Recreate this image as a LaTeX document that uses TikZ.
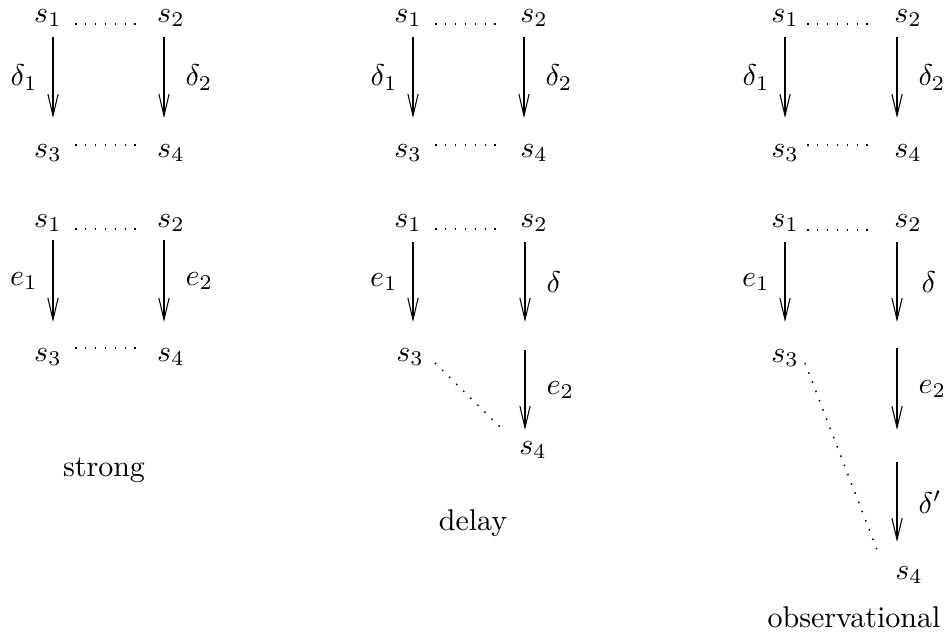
\documentclass[tikz,border=0pt]{standalone}
\usepackage{amsmath}
\usetikzlibrary{arrows.meta}
\usetikzlibrary{calc}

\tikzset{
    state/.style={inner sep=0pt, font=\normalsize},
    lbl/.style={inner sep=0pt},
    arr/.style={line width=0.35pt, -{Straight Barb[length=7.2pt,width=3.4pt,line width=0.35pt]}},
    dots/.style={line width=0.5pt, dash pattern=on 0.5pt off 2.8pt}
}

\begin{document}
\begin{tikzpicture}[x=0.33333pt, y=-0.33333pt]
    \useasboundingbox (0,0) rectangle (948,634);

    % Upper squares, one per notion
    \foreach \p/\xl/\xr/\al/\ar/\dl/\dr in {a/48/171/53/164/75/142, b/408/534/413/524/435/500, c/785/908/785/897/807/873} {
        \node[state] (\p1) at (\xl,18) {$s_1$};
        \node[state] (\p2) at (\xr,18) {$s_2$};
        \node[state] (\p3) at (\xl,153) {$s_3$};
        \node[state] (\p4) at (\xr,153) {$s_4$};

        % Transitions
        \draw[arr] ([shift={(\al-\xl,19)}]\p1.center) -- node[lbl, left=5pt] {$\delta_1$} ([shift={(\al-\xl,-35)}]\p3.center);
        \draw[arr] ([shift={(\ar-\xr,19)}]\p2.center) -- node[lbl, right=7pt] {$\delta_2$} ([shift={(\ar-\xr,-35)}]\p4.center);

        % Relations
        \draw[dots] ([shift={(\dl-\xl,6)}]\p1.center) -- ([shift={(\dr-\xr,6)}]\p2.center);
        \draw[dots] ([shift={(\dl-\xl,-8)}]\p3.center) -- ([shift={(\dr-\xr,-8)}]\p4.center);
    }

    % Strong
    \node[state] (sa1) at (48,223) {$s_1$};
    \node[state] (sa2) at (171,223) {$s_2$};
    \node[state] (sa3) at (48,357) {$s_3$};
    \node[state] (sa4) at (171,357) {$s_4$};
    \draw[arr] ([shift={(5,17)}]sa1.center) -- node[lbl, left=5pt] {$e_1$} ([shift={(5,-35)}]sa3.center);
    \draw[arr] ([shift={(-7,17)}]sa2.center) -- node[lbl, right=7pt] {$e_2$} ([shift={(-7,-35)}]sa4.center);
    \draw[dots] ([shift={(27,6)}]sa1.center) -- ([shift={(-29,6)}]sa2.center);
    \draw[dots] ([shift={(27,-9)}]sa3.center) -- ([shift={(-29,-9)}]sa4.center);
    \node (strong) at (104,470) {strong};

    % Delay
    \node[state] (sb1) at (408,223) {$s_1$};
    \node[state] (sb2) at (534,223) {$s_2$};
    \node[state] (sb3) at (410,357) {$s_3$};
    \node[state] (sb4) at (533,450) {$s_4$};
    \coordinate (bm) at (525,336);
    \draw[arr] ([shift={(5,19)}]sb1.center) -- node[lbl, left=5pt] {$e_1$} ([shift={(3,-35)}]sb3.center);
    \draw[arr] ([shift={(-9,19)}]sb2.center) -- node[lbl, right=7pt] {$\delta$} ([shift={(0,-14)}]bm);
    \draw[arr] ([shift={(0,14)}]bm) -- node[lbl, right=7pt] {$e_2$} ([shift={(-8,-20)}]sb4.center);
    \draw[dots] ([shift={(27,6)}]sb1.center) -- ([shift={(-34,6)}]sb2.center);
    \draw[dots] ([shift={(25,6)}]sb3.center) -- ([shift={(-30,-20)}]sb4.center);
    \node (delay) at (473,523) {delay};

    % Observational
    \node[state] (sc1) at (785,223) {$s_1$};
    \node[state] (sc2) at (908,223) {$s_2$};
    \node[state] (sc3) at (785,358) {$s_3$};
    \node[state] (sc4) at (909,575) {$s_4$};
    \coordinate (cm1) at (897,335);
    \coordinate (cm2) at (897,446);
    \draw[arr] ([shift={(0,19)}]sc1.center) -- node[lbl, left=5pt] {$e_1$} ([shift={(0,-36)}]sc3.center);
    \draw[arr] ([shift={(-11,19)}]sc2.center) -- node[lbl, right=8pt] {$\delta$} ([shift={(0,-13)}]cm1);
    \draw[arr] ([shift={(0,13)}]cm1) -- node[lbl, right=7pt] {$e_2$} ([shift={(0,-16)}]cm2);
    \draw[arr] ([shift={(0,16)}]cm2) -- node[lbl, right=7pt] {$\delta'$} ([shift={(-12,-33)}]sc4.center);
    \draw[dots] ([shift={(22,7)}]sc1.center) -- ([shift={(-35,7)}]sc2.center);
    \draw[dots] ([shift={(20,5)}]sc3.center) -- ([shift={(-32,-25)}]sc4.center);
    \node (observational) at (854,617) {observational};
\end{tikzpicture}
\end{document}
